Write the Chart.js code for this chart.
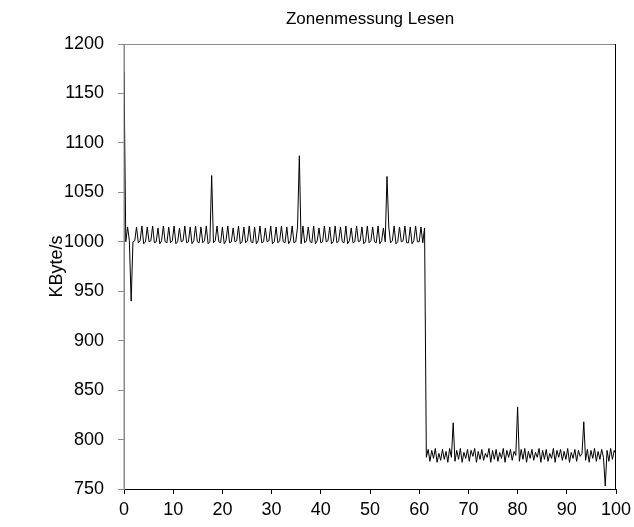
<!DOCTYPE html>
<html>
<head>
<meta charset="utf-8">
<script src="https://cdn.jsdelivr.net/npm/chart.js@4"></script>
<style>
  html, body { margin: 0; padding: 0; background: #fff; }
  #wrap { width: 634px; height: 527px; }
</style>
</head>
<body>
<div id="wrap"><canvas id="zoneChart"></canvas></div>
<script>
const chartTitle = 'Zonenmessung Lesen';
const yTitle = 'KByte/s';
const xTicks = [0, 10, 20, 30, 40, 50, 60, 70, 80, 90, 100];
const yTicks = [750, 800, 850, 900, 950, 1000, 1050, 1100, 1150, 1200];

// Messwerte, gleichmaessig ueber 0..100 verteilt
const readStart = [1172, 1000, 1015, 1001, 940, 1000, 1001, 1015];
const readOuter = [
    999, 1001, 1016, 998, 1000, 1015, 1000, 1001, 1016, 999, 1000, 1014,
    998, 1001, 1016, 1000, 999, 1015, 999, 1001, 1016, 998, 1000, 1014,
    1000, 1001, 1016, 999, 1000, 1015, 998, 1001, 1016, 1000, 999, 1015,
    999, 1001, 1016, 998, 1000, 1067, 999, 1001, 1016, 1000, 999, 1015,
    998, 1001, 1016, 999, 1000, 1014, 1000, 1001, 1016, 998, 1000, 1015,
    999, 1001, 1016, 1000, 999, 1015, 998, 1001, 1016, 999, 1000, 1014,
    1000, 1001, 1016, 998, 1000, 1015, 999, 1001, 1016, 1000, 999, 1015,
    998, 1001, 1016, 999, 1000, 1015, 1087, 998, 1016, 999, 1001, 1015,
    1000, 999, 1016, 998, 1001, 1014, 999, 1000, 1016, 1000, 1001, 1015,
    998, 1000, 1016, 999, 1001, 1015, 1000, 999, 1016, 998, 1001, 1014,
    999, 1000, 1016, 1000, 1001, 1015, 998, 1000, 1016, 999, 1001, 1015,
    1000, 999, 1016, 998, 1001, 1014, 1000, 1066, 1015, 999, 1001, 1016,
    998, 1000, 1015, 1000, 1001, 1016, 999, 999, 1015, 998, 1001, 1016,
    1000, 1000, 1015, 999, 1014
];
const readInner = [
    782, 790, 778, 789, 781, 791, 777, 786, 779, 790, 780, 788, 777, 791, 782,
    817, 778, 789, 780, 791, 777, 787, 781, 790, 778, 789, 783, 791, 777, 788,
    780, 790, 779, 786, 782, 791, 777, 789, 780, 790, 778, 787, 781, 791, 777,
    789, 782, 790, 779, 788, 784, 833, 778, 790, 780, 791, 777, 788, 781, 790,
    779, 787, 782, 791, 777, 789, 780, 790, 778, 786, 781, 791, 777, 789, 782,
    790, 779, 788, 780, 791, 777, 787, 781, 790, 778, 789, 783, 786, 818, 779,
    790, 777, 789, 781, 791, 778, 788, 780, 790, 782, 753, 789, 778, 791, 780,
    789, 785
];

const values = readStart.concat(readOuter, readInner);
const points = values.map((v, i) => ({ x: i * 100 / (values.length - 1), y: v }));

const fontFamily = '"Liberation Sans", Arial, Helvetica, sans-serif';

const frame = {
    id: 'frame',
    afterDraw(chart) {
        const { ctx, chartArea: a } = chart;
        ctx.save();
        ctx.lineWidth = 1;
        ctx.strokeStyle = '#8a8a8a';
        ctx.beginPath();
        ctx.moveTo(a.left, a.bottom);
        ctx.lineTo(a.left, a.top + 0.5);
        ctx.lineTo(a.right, a.top + 0.5);
        ctx.stroke();
        ctx.strokeStyle = '#000';
        ctx.beginPath();
        ctx.moveTo(a.right - 0.5, a.top);
        ctx.lineTo(a.right - 0.5, a.bottom);
        ctx.stroke();
        ctx.restore();
    }
};

new Chart(document.getElementById('zoneChart'), {
    type: 'line',
    data: {
        datasets: [{
            data: points,
            borderColor: '#000',
            borderWidth: 1,
            pointRadius: 0,
            tension: 0,
            fill: false
        }]
    },
    options: {
        responsive: true,
        maintainAspectRatio: false,
        animation: false,
        layout: { padding: { left: 42, right: 18, top: 0, bottom: 0 } },
        plugins: {
            legend: { display: false },
            tooltip: { enabled: false },
            title: {
                display: true,
                fullSize: false,
                text: chartTitle,
                color: '#000',
                font: { family: fontFamily, size: 17, weight: 'normal' },
                padding: { top: 9, bottom: 14.6 }
            }
        },
        scales: {
            x: {
                type: 'linear',
                min: 0,
                max: 100,
                afterBuildTicks: s => { s.ticks = xTicks.map(v => ({ value: v })); },
                afterFit: s => { s.height = 38; s.paddingLeft = 0; s.paddingRight = 0; },
                grid: { drawOnChartArea: false, drawTicks: true, tickLength: 5, color: '#000' },
                border: { display: true, color: '#000', width: 1 },
                ticks: {
                    color: '#000',
                    padding: 5,
                    maxRotation: 0,
                    font: { family: fontFamily, size: 18 }
                }
            },
            y: {
                type: 'linear',
                min: 750,
                max: 1200,
                afterBuildTicks: s => { s.ticks = yTicks.map(v => ({ value: v })); },
                afterFit: s => { s.width = 82; s.paddingTop = 0; s.paddingBottom = 0; },
                grid: { drawOnChartArea: false, drawTicks: true, tickLength: 6, color: '#8a8a8a' },
                border: { display: true, color: '#8a8a8a', width: 1 },
                title: {
                    display: true,
                    text: yTitle,
                    color: '#000',
                    padding: 4,
                    font: { family: fontFamily, size: 18 }
                },
                ticks: {
                    color: '#000',
                    padding: 14,
                    font: { family: fontFamily, size: 18 },
                    callback: v => String(v)
                }
            }
        }
    },
    plugins: [frame]
});
</script>
</body>
</html>
